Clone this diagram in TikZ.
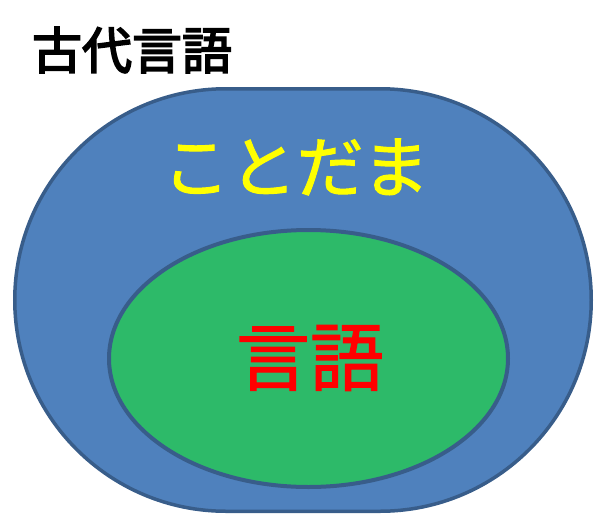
\documentclass[tikz,border=0pt]{standalone}
\usepackage{fontspec}
\usetikzlibrary{shapes.misc,shapes.geometric}
\newfontfamily\jp[FakeBold=1.5]{Noto Sans CJK JP}
\newfontfamily\jpbold[FakeBold=3.5]{Noto Sans CJK JP}
\definecolor{outerfill}{HTML}{4F81BD}
\definecolor{edgeblue}{HTML}{385D8A}
\definecolor{innerfill}{HTML}{2DBA69}
\definecolor{kotoyellow}{HTML}{FFFF00}
\definecolor{gored}{HTML}{FF0000}
\tikzset{
  outerbox/.style={shape=rounded rectangle, draw=edgeblue, fill=outerfill, line width=3.5pt, inner sep=0pt, minimum width=576.5pt, minimum height=422.5pt},
  innerbox/.style={shape=ellipse, draw=edgeblue, fill=innerfill, line width=4pt, inner sep=0pt, minimum width=399pt, minimum height=257pt},
  labeltext/.style={inner sep=0pt}
}
\begin{document}
\begin{tikzpicture}[x=1pt,y=-1pt]
\useasboundingbox (0,0) rectangle (595,515);
\node[outerbox] (outer) at (303,300) {};
\node[innerbox] (inner) at (308.5,358.5) {};
\node[labeltext, font=\jpbold\fontsize{50}{54}\selectfont] (title) at (132,50) {古代言語};
\node[labeltext, text=kotoyellow, font=\jp\fontsize{67}{70}\selectfont] (koto) at (296,167) {ことだま};
\node[labeltext, text=gored, font=\jp\fontsize{74}{78}\selectfont] (gengo) at (310,358) {言語};
\end{tikzpicture}
\end{document}
